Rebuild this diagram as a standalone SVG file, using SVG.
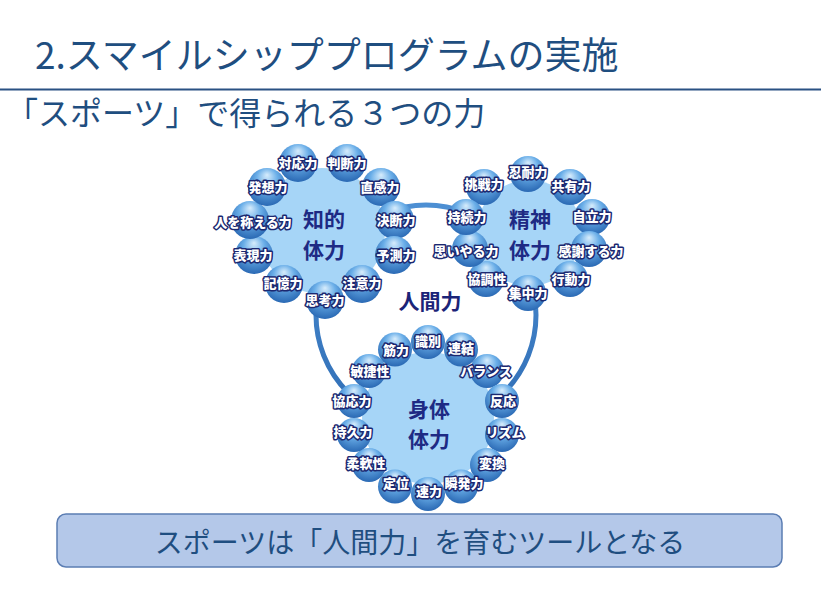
<svg xmlns="http://www.w3.org/2000/svg" width="821" height="596" viewBox="0 0 821 596">
<defs>
<radialGradient id="ball" cx="50%" cy="38%" r="62%" fx="50%" fy="18%">
<stop offset="0" stop-color="#d6ecfc"/>
<stop offset="0.45" stop-color="#6aaee8"/>
<stop offset="1" stop-color="#2a69b4"/>
</radialGradient>
<linearGradient id="ringg" x1="0" y1="0" x2="0" y2="1">
<stop offset="0" stop-color="#4d8fd3"/>
<stop offset="1" stop-color="#2f6db5"/>
</linearGradient>
<style>
.title{font-family:"Noto Sans CJK JP","Noto Sans",sans-serif;fill:#1f4e80}
.disc{fill:#a6d5f7}
.ball{fill:url(#ball)}
.lbl{font-family:"Noto Sans CJK JP",sans-serif;font-size:13px;font-weight:900;fill:#ffffff;stroke:#1b2870;stroke-width:3;stroke-linejoin:round;paint-order:stroke;text-anchor:middle}
.core{font-family:"Noto Sans CJK JP",sans-serif;font-size:21px;font-weight:700;fill:#1e2a84;text-anchor:middle}
</style>
</defs>
<rect width="821" height="596" fill="#ffffff"/>
<text class="title" x="35" y="69" font-size="37">2.スマイルシッププログラムの実施</text>
<line x1="0" y1="89.5" x2="821" y2="89.5" stroke="#2a5183" stroke-width="2"/>
<text class="title" x="6" y="125" font-size="32">「スポーツ」で得られる３つの力</text>

<g id="connectors">
<circle cx="426" cy="315" r="110" fill="none" stroke="url(#ringg)" stroke-width="5"/>
</g>

<g id="chiteki">
<circle class="disc" cx="322" cy="231" r="63"/>
<circle class="ball" cx="298" cy="163" r="19"/>
<circle class="ball" cx="347" cy="163" r="19"/>
<circle class="ball" cx="381" cy="187" r="19"/>
<circle class="ball" cx="395" cy="220" r="19"/>
<circle class="ball" cx="394" cy="255" r="19"/>
<circle class="ball" cx="362" cy="284" r="19"/>
<circle class="ball" cx="284" cy="284" r="19"/>
<circle class="ball" cx="254" cy="255" r="19"/>
<circle class="ball" cx="250" cy="220" r="19"/>
<circle class="ball" cx="267" cy="187" r="19"/>
<circle class="ball" cx="325" cy="300" r="19"/>
<text class="core" x="324" y="227">知的</text>
<text class="core" x="324" y="257.5">体力</text>
<text class="lbl" x="298" y="168">対応力</text>
<text class="lbl" x="347" y="168">判断力</text>
<text class="lbl" x="380" y="192">直感力</text>
<text class="lbl" x="396" y="225">決断力</text>
<text class="lbl" x="396" y="260">予測力</text>
<text class="lbl" x="362" y="288">注意力</text>
<text class="lbl" x="325" y="305">思考力</text>
<text class="lbl" x="283" y="288">記憶力</text>
<text class="lbl" x="253" y="260">表現力</text>
<text class="lbl" x="253" y="227">人を称える力</text>
<text class="lbl" x="268" y="192">発想力</text>
</g>

<g id="seishin">
<circle class="disc" cx="529" cy="233" r="53"/>
<circle class="ball" cx="484" cy="187" r="18"/>
<circle class="ball" cx="528" cy="174" r="18"/>
<circle class="ball" cx="570" cy="187" r="18"/>
<circle class="ball" cx="592" cy="217" r="18"/>
<circle class="ball" cx="589" cy="249" r="18"/>
<circle class="ball" cx="570" cy="279" r="18"/>
<circle class="ball" cx="486" cy="279" r="18"/>
<circle class="ball" cx="470" cy="249" r="18"/>
<circle class="ball" cx="466" cy="217" r="18"/>
<circle class="ball" cx="528" cy="293" r="18"/>
<text class="core" x="530" y="227">精神</text>
<text class="core" x="530" y="257.5">体力</text>
<text class="lbl" x="484" y="189">挑戦力</text>
<text class="lbl" x="528" y="177">忍耐力</text>
<text class="lbl" x="571" y="191">共有力</text>
<text class="lbl" x="592" y="221">自立力</text>
<text class="lbl" x="591" y="256">感謝する力</text>
<text class="lbl" x="571" y="284">行動力</text>
<text class="lbl" x="528" y="298">集中力</text>
<text class="lbl" x="487" y="284">協調性</text>
<text class="lbl" x="466" y="256">思いやる力</text>
<text class="lbl" x="467" y="222">持続力</text>
</g>

<text id="ningenryoku" x="430" y="309" font-family="'Noto Sans CJK JP',sans-serif" font-size="21" font-weight="700" fill="#1b2478" text-anchor="middle">人間力</text>

<g id="shintai">
<circle class="disc" cx="428" cy="418" r="66"/>
<circle class="ball" cx="461" cy="349.5" r="17"/>
<circle class="ball" cx="487" cy="371" r="17"/>
<circle class="ball" cx="502" cy="401" r="17"/>
<circle class="ball" cx="502" cy="435" r="17"/>
<circle class="ball" cx="487" cy="465" r="17"/>
<circle class="ball" cx="461" cy="486.5" r="17"/>
<circle class="ball" cx="395" cy="486.5" r="17"/>
<circle class="ball" cx="369" cy="465" r="17"/>
<circle class="ball" cx="354" cy="435" r="17"/>
<circle class="ball" cx="354" cy="401" r="17"/>
<circle class="ball" cx="369" cy="371" r="17"/>
<circle class="ball" cx="395" cy="349.5" r="17"/>
<circle class="ball" cx="428" cy="342" r="17"/>
<circle class="ball" cx="428" cy="494" r="17"/>
<text class="core" x="429" y="416.5">身体</text>
<text class="core" x="429" y="447">体力</text>
<text class="lbl" x="428" y="346">識別</text>
<text class="lbl" x="461" y="353">連結</text>
<text class="lbl" x="486" y="376">バランス</text>
<text class="lbl" x="503" y="406">反応</text>
<text class="lbl" x="505" y="437">リズム</text>
<text class="lbl" x="492" y="468">変換</text>
<text class="lbl" x="464" y="488">瞬発力</text>
<text class="lbl" x="429" y="496">速力</text>
<text class="lbl" x="396" y="488">定位</text>
<text class="lbl" x="366" y="468">柔軟性</text>
<text class="lbl" x="353" y="437">持久力</text>
<text class="lbl" x="352" y="406">協応力</text>
<text class="lbl" x="370" y="376">敏捷性</text>
<text class="lbl" x="396" y="355">筋力</text>
</g>

<g id="summary">
<rect x="57" y="514" width="725" height="53" rx="9" fill="#b4c8e9" stroke="#5b7db3" stroke-width="1.5"/>
<text class="title" x="420" y="553" font-size="28" text-anchor="middle">スポーツは「人間力」を育むツールとなる</text>
</g>
</svg>
